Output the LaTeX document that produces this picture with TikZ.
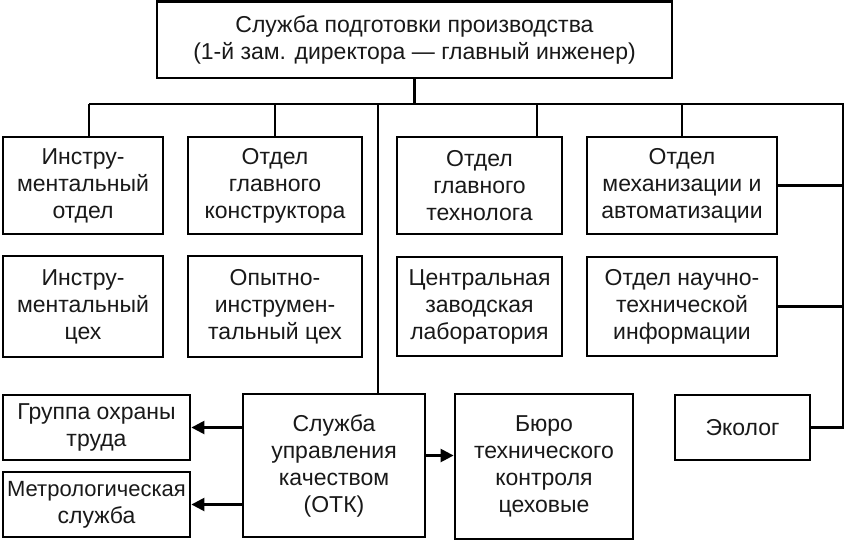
\documentclass[tikz,border=0pt]{standalone}
\usepackage{fontspec}
\setmainfont{Liberation Sans}
\usetikzlibrary{arrows.meta}
\tikzset{
  box/.style={draw=black, line width=2.8pt, fill=white, align=center, inner sep=0pt,
    font=\fontsize{23}{27}\selectfont, text=black!90},
  conn/.style={draw=black, line width=2.4pt},
  arr/.style={conn, -{Triangle[length=13pt,width=13pt]}}
}
\newcommand\bx[6]{\node[box,minimum width={#4-#2},minimum height={#5-#3}] (#1) at ({(#2+#4)/2},{(#3+#5)/2}) {#6};}
\begin{document}
\begin{tikzpicture}[x=1pt,y=-1pt]
\useasboundingbox[fill=white] (0,0) rectangle (846,542);
\coordinate (busL) at (89,104);
\coordinate (busR) at (843,104);
\coordinate (d0) at (378,104);
\coordinate (d3) at (537,104);
% boxes
\bx{top}{157}{1.5}{672}{78}{Служба подготовки производства\\(1-й зам. директора — главный инженер)}
\bx{b1}{3}{137}{163}{234}{Инстру-\\ментальный\\отдел}
\bx{b2}{188}{137}{362}{234}{Отдел\\главного\\конструктора}
\bx{b3}{397}{137}{562}{234}{Отдел\\главного\\технолога}
\bx{b4}{587}{137}{777}{234}{Отдел\\механизации и\\автоматизации}
\bx{b5}{3}{256}{163}{357}{Инстру-\\ментальный\\цех}
\bx{b6}{188}{256}{362}{357}{Опытно-\\инструмен-\\тальный цех}
\bx{b7}{397}{257}{562}{356}{Центральная\\заводская\\лаборатория}
\bx{b8}{587}{257}{777}{356}{Отдел научно-\\технической\\информации}
\bx{ohr}{3}{395}{190}{460}{Группа охраны\\труда}
\bx{metr}{3}{472}{190}{537}{{\fontsize{22}{27}\selectfont Метрологическая}\\служба}
\bx{otk}{243}{394}{425}{537}{Служба\\управления\\качеством\\(ОТК)}
\bx{buro}{455}{394}{633}{539}{Бюро\\технического\\контроля\\цеховые}
\bx{eko}{675}{395}{810}{460}{Эколог}
% lines
\draw[conn] (top.south) -- (top.south |- busL);
\draw[conn] (busL) -- (busR) -- (eko.east -| busR) -- (eko.east);
\draw[conn] (busL) -- (busL |- b1.north);
\draw[conn] (b2.north |- busL) -- (b2.north);
\draw[conn] (d3) -- (d3 |- b3.north);
\draw[conn] (b4.north |- busL) -- (b4.north);
\draw[conn] (b4.east) -- (b4.east -| busR);
\draw[conn] (b8.east) -- (b8.east -| busR);
\draw[conn] (d0) -- (d0 |- otk.north);
\draw[arr] (otk.west |- ohr.east) -- (ohr.east);
\draw[arr] (otk.west |- metr.east) -- (metr.east);
\coordinate (ob) at ([yshift=10pt]otk.east);
\draw[arr] (ob) -- (ob -| buro.west);
\end{tikzpicture}
\end{document}
